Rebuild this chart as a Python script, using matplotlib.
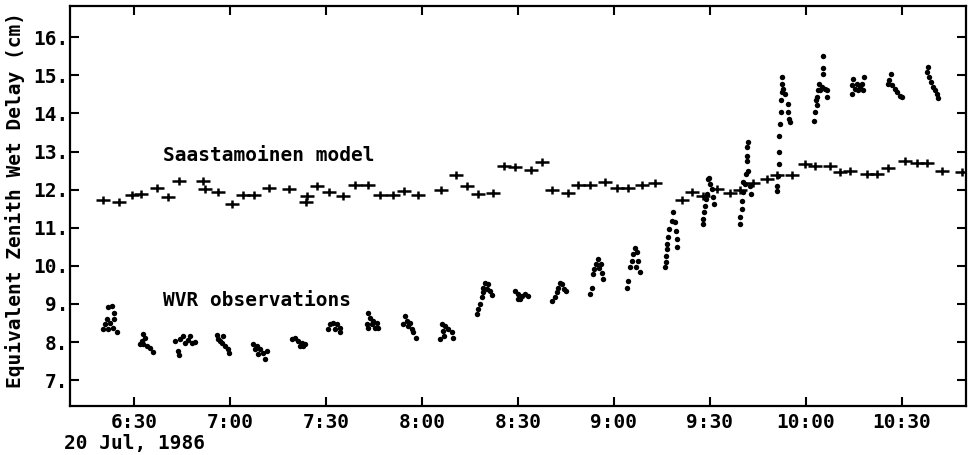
import matplotlib
matplotlib.use("Agg")
import matplotlib.pyplot as plt
from matplotlib.path import Path
from matplotlib.ticker import FixedLocator, FuncFormatter

# times in minutes after midnight, 20 Jul 1986
model_t = [380.4, 385.4, 389.3, 392.1, 397.3, 400.5, 404.0, 411.5, 412.2, 416.3,
           420.5, 424.2, 427.6, 432.3, 438.4, 443.7, 444.2, 447.3, 451.0, 455.4,
           459.0, 463.0, 466.9, 470.8, 474.5, 478.8, 485.9, 490.5, 494.2, 497.6,
           502.3, 505.6, 509.1, 514.0, 517.4, 520.5, 525.5, 528.8, 532.5, 537.2,
           540.8, 544.5, 548.7, 552.8, 561.2, 564.3, 567.9, 572.1, 576.3, 579.4,
           583.5, 587.7, 590.8, 595.5, 599.7, 602.8, 607.5, 610.6, 613.8, 619.0,
           622.1, 625.7, 630.9, 634.6, 637.7, 642.4, 648.6]
model_v = [11.73, 11.67, 11.87, 11.89, 12.05, 11.80, 12.22, 12.22, 12.02, 11.93,
           11.61, 11.86, 11.87, 12.05, 12.02, 11.67, 11.84, 12.10, 11.93, 11.84,
           12.13, 12.13, 11.87, 11.86, 11.96, 11.87, 11.99, 12.39, 12.09, 11.89,
           11.90, 12.61, 12.59, 12.52, 12.72, 11.99, 11.90, 12.13, 12.13, 12.21,
           12.05, 12.03, 12.13, 12.18, 11.73, 11.93, 11.84, 12.02, 11.90, 11.99,
           12.17, 12.28, 12.39, 12.39, 12.66, 12.61, 12.63, 12.46, 12.50, 12.40,
           12.41, 12.57, 12.75, 12.69, 12.69, 12.50, 12.46]

# WVR scans, one cluster per line
wvr_t = [382.0, 383.0, 383.8, 381.5, 381.0, 382.5, 380.4, 381.9, 383.5, 384.6, 383.8,
         392.9, 392.4, 392.9, 394.0, 395.0, 396.0, 393.4, 391.9,
         402.8, 404.4, 405.4, 405.9, 407.5, 408.0, 409.0, 403.8, 404.2, 406.8,
         415.8, 416.3, 417.9, 417.4, 418.4, 419.3, 419.7, 416.8,
         427.3, 428.3, 429.4, 428.8, 430.4, 431.5, 430.9, 427.8,
         439.3, 440.3, 441.4, 442.4, 443.4, 441.9, 442.9,
         451.3, 452.3, 453.3, 454.4, 450.7, 452.8, 454.4,
         463.2, 463.8, 464.8, 465.8, 462.7, 463.2, 465.3, 466.4, 464.3,
         474.7, 475.2, 474.2, 475.7, 476.8, 477.3, 478.1, 476.2,
         486.2, 487.2, 486.7, 488.2, 489.3, 489.8, 485.6, 486.9,
         497.1, 497.6, 498.1, 498.7, 499.0, 499.2, 499.7, 500.7, 501.3, 501.8, 500.2,
         509.1, 510.1, 511.2, 512.2, 513.2, 510.6, 510.0,
         520.6, 521.6, 522.1, 522.6, 523.1, 523.6, 524.4, 525.0,
         532.5, 533.0, 533.5, 533.8, 534.4, 535.1, 535.8, 536.2, 536.5, 535.2,
         544.0, 544.5, 545.0, 545.5, 546.0, 546.6, 547.1, 547.6, 548.1, 547.0,
         555.9, 556.1, 556.3, 556.5, 556.7, 556.8, 557.2, 558.0, 558.5, 559.1, 559.4, 559.6, 559.8,
         567.7, 567.9, 568.1, 568.4, 568.8, 569.0, 569.5, 570.0, 570.5, 571.0, 571.4, 569.8,
         579.4, 579.4, 579.9, 580.1, 580.4, 580.9, 581.3, 581.7, 581.5, 581.7, 581.8, 582.0, 582.5, 582.8, 580.2,
         590.8, 591.0, 591.3, 591.6, 591.7, 591.7, 591.9, 592.1, 592.2, 592.4, 592.6, 592.4, 592.9, 593.4, 594.3, 594.5, 594.8, 595.0,
         602.5, 602.8, 603.3, 603.1, 603.5, 603.8, 604.2, 604.9, 605.4, 605.2, 605.4, 605.9, 606.5, 606.7, 604.4,
         614.3, 614.3, 614.8, 615.3, 616.3, 616.9, 617.4, 618.1, 617.9, 615.8,
         626.5, 626.0, 625.7, 626.8, 627.8, 628.5, 629.4, 629.9,
         638.2, 637.9, 638.5, 639.0, 639.6, 640.3, 640.8, 641.4]
wvr_v = [8.92, 8.95, 8.77, 8.60, 8.47, 8.51, 8.33, 8.33, 8.38, 8.25, 8.60,
         8.22, 8.03, 7.94, 7.89, 7.83, 7.74, 8.11, 7.94,
         8.03, 8.07, 8.16, 7.98, 8.16, 7.98, 8.01, 7.76, 7.66, 8.05,
         8.18, 8.07, 8.16, 7.98, 7.89, 7.81, 7.72, 8.03,
         7.94, 7.89, 7.81, 7.68, 7.72, 7.76, 7.55, 7.81,
         8.07, 8.10, 8.03, 7.98, 7.94, 7.89, 7.89,
         8.47, 8.51, 8.47, 8.38, 8.33, 8.33, 8.25,
         8.77, 8.64, 8.55, 8.51, 8.47, 8.38, 8.38, 8.38, 8.47,
         8.68, 8.55, 8.47, 8.42, 8.33, 8.25, 8.11, 8.51,
         8.47, 8.42, 8.29, 8.33, 8.25, 8.11, 8.07, 8.16,
         8.73, 8.86, 8.99, 9.17, 9.30, 9.43, 9.56, 9.52, 9.34, 9.24, 9.38,
         9.34, 9.26, 9.21, 9.26, 9.21, 9.12, 9.12,
         9.08, 9.17, 9.30, 9.43, 9.56, 9.52, 9.39, 9.34,
         9.26, 9.43, 9.78, 9.91, 10.04, 10.18, 10.04, 9.82, 9.65, 9.95,
         9.43, 9.61, 9.96, 10.13, 10.31, 10.47, 10.35, 10.13, 9.84, 9.97,
         9.96, 10.09, 10.26, 10.44, 10.57, 10.76, 10.97, 11.18, 11.40, 11.14, 10.92, 10.70, 10.50,
         11.10, 11.23, 11.40, 11.58, 11.75, 11.89, 12.28, 12.15, 12.02, 11.80, 11.62, 12.31,
         11.10, 11.27, 11.49, 11.71, 11.93, 12.15, 12.41, 12.76, 12.89, 13.11, 13.24, 12.50, 12.10, 11.89, 12.20,
         11.97, 12.10, 12.37, 12.68, 12.98, 13.42, 13.73, 14.05, 14.34, 14.56, 14.78, 14.96, 14.65, 14.52, 14.26, 14.03, 13.86, 13.77,
         13.79, 14.03, 14.21, 14.34, 14.43, 14.61, 14.78, 14.69, 15.04, 15.18, 15.51, 14.65, 14.61, 14.43, 14.61,
         14.52, 14.74, 14.91, 14.65, 14.61, 14.69, 14.78, 14.96, 14.61, 14.78,
         15.04, 14.87, 14.78, 14.74, 14.65, 14.56, 14.45, 14.43,
         15.22, 15.09, 14.96, 14.82, 14.69, 14.61, 14.52, 14.41]

xticks = [390, 420, 450, 480, 510, 540, 570, 600, 630]
yticks = [7, 8, 9, 10, 11, 12, 13, 14, 15, 16]

FONT = "DejaVu Sans Mono"
FS = 14
FW = "bold"

# wide plus like the plotter symbol
plus = Path([(-1, 0), (1, 0), (0, -0.62), (0, 0.62)],
            [Path.MOVETO, Path.LINETO, Path.MOVETO, Path.LINETO])

fig = plt.figure(figsize=(9.68, 4.55), dpi=100)
ax = fig.add_axes([70/968, 1 - 406/455, 896/968, 400/455])

ax.plot(model_t, model_v, ls="none", marker=plus, ms=9.5, mew=1.8, color="black")
ax.plot(wvr_t, wvr_v, ls="none", marker="o", ms=3.9, mew=0, color="black")

ax.set_xlim(370, 650)
ax.set_ylim(6.32, 16.82)
ax.xaxis.set_major_locator(FixedLocator(xticks))
ax.yaxis.set_major_locator(FixedLocator(yticks))
ax.xaxis.set_major_formatter(FuncFormatter(lambda m, p: f"{int(m // 60)}:{int(m % 60):02d}"))
ax.yaxis.set_major_formatter(FuncFormatter(lambda v, p: f"{int(v)}."))
ax.tick_params(direction="in", top=True, right=True, length=6.5, width=1.5,
               labelsize=FS)
ax.tick_params(axis="x", pad=5)
ax.tick_params(axis="y", pad=1)
for lab in ax.get_xticklabels() + ax.get_yticklabels():
    lab.set_family(FONT)
    lab.set_weight(FW)
for s in ax.spines.values():
    s.set_linewidth(1.6)

ax.text(399, 12.9, "Saastamoinen model", family=FONT, fontsize=FS, weight=FW, va="center")
ax.text(399, 9.08, "WVR observations", family=FONT, fontsize=FS, weight=FW, va="center")

fig.text(15/968, 0.56, "Equivalent Zenith Wet Delay (cm)", family=FONT, fontsize=FS,
         weight=FW, rotation=90, ha="center", va="center")
fig.text(64/968, 1 - 444/455, "20 Jul, 1986", family=FONT, fontsize=FS, weight=FW,
         va="center")

fig.savefig("out.png", dpi=100)
